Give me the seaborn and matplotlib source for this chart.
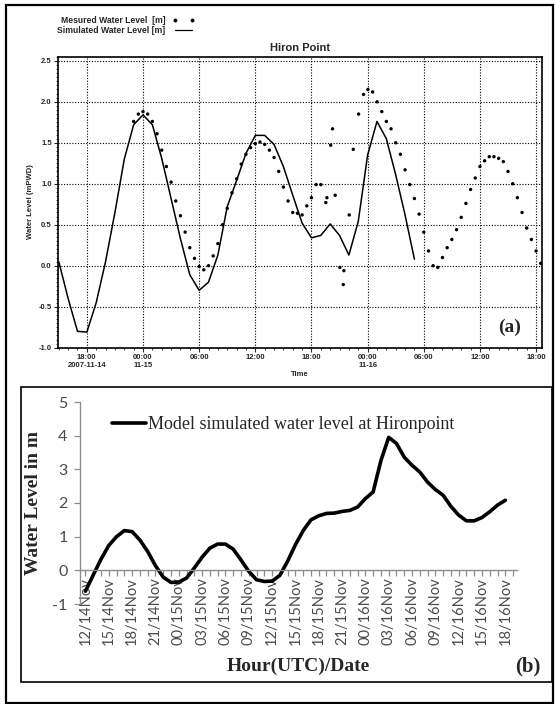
import pandas as pd
import seaborn as sns
import matplotlib.pyplot as plt
import matplotlib.dates as mdates
from matplotlib.lines import Line2D
from matplotlib.patches import Rectangle
from matplotlib.ticker import MultipleLocator, FixedLocator

# ---- panel (a): Hiron Point, measured vs simulated ----
sim_times = pd.date_range("2007-11-14 15:00", "2007-11-16 05:00", freq="h")
sim_level = [0.05, -0.40, -0.80, -0.81, -0.45, 0.05, 0.65, 1.30, 1.72,
             1.84, 1.72, 1.31, 0.82, 0.33, -0.11, -0.30, -0.20, 0.13, 0.72, 1.04, 1.37,
             1.59, 1.59, 1.48, 1.21, 0.86, 0.52, 0.34, 0.37, 0.51, 0.37, 0.13, 0.54,
             1.35, 1.76, 1.55, 1.11, 0.62, 0.08]

meas_times = [
    "11-14 23:00", "11-14 23:30", "11-15 00:00", "11-15 00:30", "11-15 01:00",
    "11-15 01:30", "11-15 02:00", "11-15 02:30", "11-15 03:00", "11-15 03:30",
    "11-15 04:00", "11-15 04:30", "11-15 05:00", "11-15 05:30", "11-15 06:00",
    "11-15 06:30", "11-15 07:00", "11-15 07:30", "11-15 08:00", "11-15 08:30",
    "11-15 09:00", "11-15 09:30", "11-15 10:00", "11-15 10:30", "11-15 11:00",
    "11-15 11:30", "11-15 12:00", "11-15 12:30", "11-15 13:00", "11-15 13:30",
    "11-15 14:00", "11-15 14:30", "11-15 15:00", "11-15 15:30", "11-15 16:00",
    "11-15 16:30", "11-15 17:00", "11-15 17:30", "11-15 18:00", "11-15 18:30",
    "11-15 19:00", "11-15 19:32", "11-15 19:39", "11-15 20:03", "11-15 20:15",
    "11-15 20:32", "11-15 21:02", "11-15 21:24", "11-15 21:28", "11-15 22:02",
    "11-15 22:28", "11-15 23:02", "11-15 23:34", "11-16 00:02", "11-16 00:32",
    "11-16 01:01", "11-16 01:31", "11-16 02:00", "11-16 02:30", "11-16 03:00",
    "11-16 03:30", "11-16 04:00", "11-16 04:30", "11-16 05:00", "11-16 05:30",
    "11-16 06:00", "11-16 06:30", "11-16 07:00", "11-16 07:30", "11-16 08:00",
    "11-16 08:30", "11-16 09:00", "11-16 09:30", "11-16 10:00", "11-16 10:30",
    "11-16 11:00", "11-16 11:30", "11-16 12:00", "11-16 12:30", "11-16 13:00",
    "11-16 13:30", "11-16 14:00", "11-16 14:30", "11-16 15:00", "11-16 15:30",
    "11-16 16:00", "11-16 16:30", "11-16 17:00", "11-16 17:30", "11-16 18:00",
    "11-16 18:30"]
meas_level = [1.76, 1.85, 1.88, 1.85, 1.76, 1.61, 1.41, 1.21, 1.02, 0.79,
              0.61, 0.41, 0.22, 0.09, -0.01, -0.05, 0.00, 0.12, 0.27, 0.50,
              0.70, 0.89, 1.06, 1.24, 1.36, 1.44, 1.49, 1.51, 1.48, 1.41,
              1.32, 1.15, 0.96, 0.79, 0.65, 0.64, 0.62, 0.73, 0.83, 0.99,
              0.99, 0.77, 0.83, 1.47, 1.67, 0.86, -0.02, -0.23, -0.06, 0.62,
              1.42, 1.85, 2.09, 2.15, 2.12, 2.00, 1.88, 1.76, 1.67, 1.50,
              1.36, 1.17, 0.99, 0.82, 0.63, 0.41, 0.18, 0.00, -0.02, 0.10,
              0.22, 0.32, 0.44, 0.59, 0.76, 0.93, 1.07, 1.21, 1.28, 1.33,
              1.33, 1.31, 1.27, 1.15, 1.00, 0.83, 0.65, 0.46, 0.32, 0.18,
              0.03]

a_ticks = ["2007-11-14 18:00", "2007-11-15 00:00", "2007-11-15 06:00",
           "2007-11-15 12:00", "2007-11-15 18:00", "2007-11-16 00:00",
           "2007-11-16 06:00", "2007-11-16 12:00", "2007-11-16 18:00"]
a_tick_labels = ["18:00\n2007-11-14", "00:00\n11-15", "06:00", "12:00", "18:00",
                 "00:00\n11-16", "06:00", "12:00", "18:00"]

# ---- panel (b): model simulated water level ----
b_level = [-0.62, -0.14, 0.33, 0.74, 1.00, 1.18, 1.15, 0.90, 0.56, 0.14,
           -0.20, -0.36, -0.35, -0.23, 0.07, 0.39, 0.66, 0.78, 0.78, 0.63,
           0.31, -0.03, -0.28, -0.33, -0.32, -0.15, 0.27, 0.76, 1.18, 1.50,
           1.62, 1.69, 1.70, 1.75, 1.78, 1.88, 2.13, 2.33, 3.26, 3.95,
           3.77, 3.36, 3.12, 2.92, 2.62, 2.40, 2.23, 1.90, 1.64, 1.47,
           1.47, 1.57, 1.74, 1.94, 2.08]
b_labels = ["12/14Nov", "15/14Nov", "18/14Nov", "21/14Nov", "00/15Nov", "03/15Nov",
            "06/15Nov", "09/15Nov", "12/15Nov", "15/15Nov", "18/15Nov", "21/15Nov",
            "00/16Nov", "03/16Nov", "06/16Nov", "09/16Nov", "12/16Nov", "15/16Nov",
            "18/16Nov"]

W, H = 556, 704


def fx(x):
    return x / W


def fy(y):
    return 1 - y / H


sns.set_theme(style="white")
plt.rcParams["font.family"] = ["Liberation Sans", "DejaVu Sans"]
plt.rcParams["axes.unicode_minus"] = False

fig = plt.figure(figsize=(W / 100, H / 100), dpi=100)

# outer frame and frame of panel (b)
fig.patches.append(Rectangle((fx(6), fy(703)), fx(553) - fx(6), fy(5) - fy(703),
                             transform=fig.transFigure, fill=False, lw=1.6, ec="black"))
fig.patches.append(Rectangle((fx(21), fy(682)), fx(552) - fx(21), fy(387) - fy(682),
                             transform=fig.transFigure, fill=False, lw=1.2, ec="black"))

# ---------------- panel (a) ----------------
ax = fig.add_axes([fx(58), fy(347.7), fx(542) - fx(58), fy(56.7) - fy(347.7)])
df_sim = pd.DataFrame({"time": sim_times, "level": sim_level})
df_meas = pd.DataFrame({"time": pd.to_datetime(["2007-" + t for t in meas_times]),
                        "level": meas_level})
sns.lineplot(data=df_sim, x="time", y="level", ax=ax, color="black", lw=1.1,
             legend=False)
sns.scatterplot(data=df_meas, x="time", y="level", ax=ax, color="black", s=6,
                edgecolor="none", legend=False, zorder=3)

ax.set_xlim(pd.Timestamp("2007-11-14 14:55"), pd.Timestamp("2007-11-16 18:38"))
ax.set_ylim(-1.0, 2.55)
ax.xaxis.set_major_locator(FixedLocator(mdates.date2num(pd.to_datetime(a_ticks))))
ax.set_xticklabels(a_tick_labels)
ax.xaxis.set_minor_locator(mdates.HourLocator())
ax.yaxis.set_major_locator(MultipleLocator(0.5))
ax.yaxis.set_minor_locator(MultipleLocator(0.05))
ax.yaxis.set_major_formatter(plt.FormatStrFormatter("%.1f"))
ax.grid(True, which="major", color="black", lw=0.8, linestyle=(0, (1, 1.5)))
ax.tick_params(which="major", direction="out", length=3, width=0.8, labelsize=5.5,
               pad=1.5, left=True, bottom=True)
ax.tick_params(which="minor", direction="out", length=1.5, width=0.6,
               left=True, bottom=True)
for lab in ax.get_xticklabels() + ax.get_yticklabels():
    lab.set_fontweight("bold")
for sp in ax.spines.values():
    sp.set_color("black")
    sp.set_linewidth(1.2)
ax.set_xlabel("")
ax.set_ylabel("")
ax.set_title("Hiron Point", fontsize=8, fontweight="bold", pad=4)

fig.text(fx(30), fy(202), "Water Level (mPWD)", rotation=90, fontsize=5.5,
         fontweight="bold", ha="center", va="center")
fig.text(fx(300), fy(375), "Time", fontsize=5.5, fontweight="bold",
         ha="center", va="center")
fig.text(fx(510), fy(327), "(a)", fontsize=14, fontweight="bold",
         family="Liberation Serif", ha="center", va="center")

handles = [Line2D([], [], ls="none", marker="o", ms=1.8, color="black"),
           Line2D([], [], color="black", lw=0.9)]
fig.legend(handles, ["Mesured Water Level  [m]", "Simulated Water Level [m]"],
           loc="upper left", bbox_to_anchor=(fx(53), fy(12)), frameon=False,
           markerfirst=False, numpoints=2, handlelength=2.6, handletextpad=0.8,
           labelspacing=0.1, borderpad=0,
           prop={"size": 6.2, "weight": "bold"})

# ---------------- panel (b) ----------------
bx = fig.add_axes([fx(80), fy(604), fx(517) - fx(80), fy(402) - fy(604)])
df_b = pd.DataFrame({"hour": range(len(b_level)), "level": b_level})
sns.lineplot(data=df_b, x="hour", y="level", ax=bx, color="black", lw=2.6,
             legend=False)
# the category axis crosses at zero, labels hang just below it
bx.spines["bottom"].set_position(("data", 0))
for side in ["top", "right"]:
    bx.spines[side].set_visible(False)
for side in ["left", "bottom"]:
    bx.spines[side].set_color("#8c8c8c")
    bx.spines[side].set_linewidth(1.0)
bx.set_xlim(-0.7, 55.5)
bx.set_ylim(-1, 5)
bx.set_yticks(range(-1, 6))
bx.set_xticks(range(0, len(b_level), 3))
bx.set_xticklabels(b_labels)
bx.xaxis.set_minor_locator(MultipleLocator(1))
bx.tick_params(axis="x", which="both", direction="out", length=4, width=0.9,
               color="#8c8c8c", bottom=True)
bx.tick_params(axis="x", which="major", labelsize=10.5, labelcolor="#4a4a4a",
               labelrotation=90, pad=1)
bx.tick_params(axis="y", direction="out", length=4, width=0.9, color="#8c8c8c",
               left=True, labelsize=11.5, labelcolor="#4a4a4a", pad=5)
for lab in bx.get_xticklabels() + bx.get_yticklabels():
    lab.set_family("Lato")
bx.set_xlabel("")
bx.set_ylabel("")

fig.legend([Line2D([], [], color="black", lw=2.6)],
           ["Model simulated water level at Hironpoint"],
           loc="center left", bbox_to_anchor=(fx(103), fy(425)), frameon=False,
           handlelength=1.9, handletextpad=0.1, borderpad=0,
           prop={"family": "Liberation Serif", "size": 13})

fig.text(fx(34), fy(503), "Water Level in m", rotation=90, fontsize=14,
         fontweight="bold", family="Liberation Serif", ha="center", va="center")
fig.text(fx(298), fy(666), "Hour(UTC)/Date", fontsize=14, fontweight="bold",
         family="Liberation Serif", ha="center", va="center")
fig.text(fx(528), fy(666), "(b)", fontsize=15, fontweight="bold",
         family="Liberation Serif", ha="center", va="center")

fig.savefig("out.png", dpi=100)
